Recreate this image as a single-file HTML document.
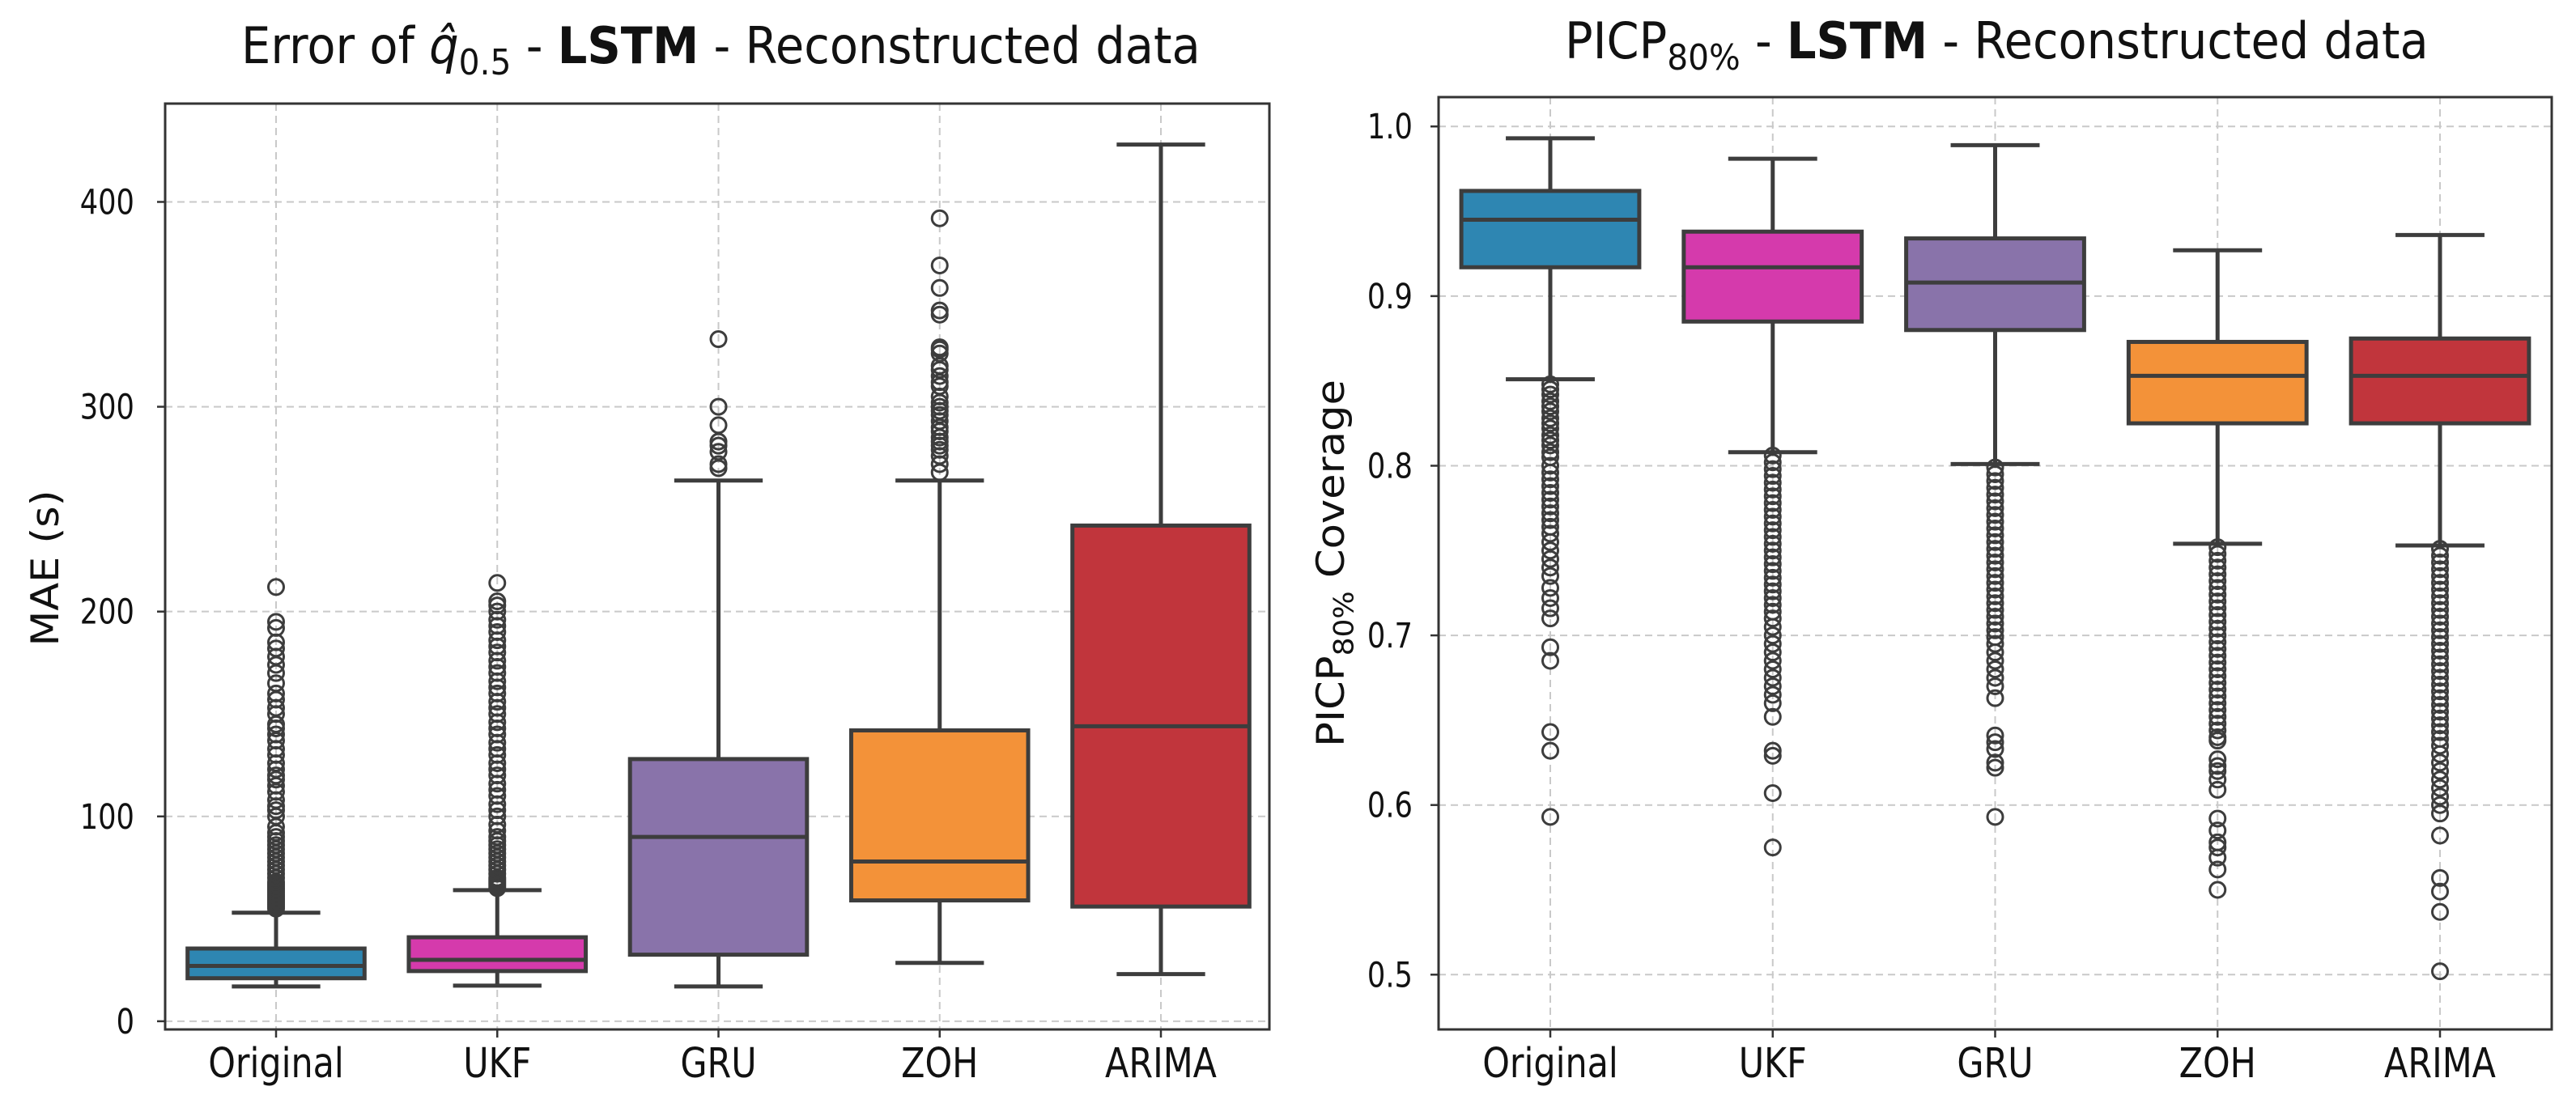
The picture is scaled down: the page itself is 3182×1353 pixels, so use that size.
<!DOCTYPE html>
<html><head><meta charset="utf-8"><style>
html,body{margin:0;padding:0;background:#fff;}
svg{display:block;}
text{font-family:"DejaVu Sans","Liberation Sans",sans-serif;fill:#111;}
</style></head>
<body>
<svg id="fig" width="3182" height="1353" viewBox="0 0 3182 1353">
<g id="left"></g>
<g id="right"></g>
<text id="t1" x="298" y="78" font-size="62">Error of <tspan font-style="italic">q̂</tspan><tspan font-size="44" dy="14">0.5</tspan><tspan dy="-14"> - </tspan><tspan font-weight="bold">LSTM</tspan> - Reconstructed data</text>
<text id="t2" x="1933" y="72" font-size="62">PICP<tspan font-size="44" dy="14">80%</tspan><tspan dy="-14"> - </tspan><tspan font-weight="bold">LSTM</tspan> - Reconstructed data</text>
</svg>
<script>
const categories = ["Original","UKF","GRU","ZOH","ARIMA"];
const colors = ["#2e86b2","#d53aac","#8973aa","#f39239","#c1353c"];
// MAE stats: [whiskerLow, q1, median, q3, whiskerHigh]
const maeStats = [
  [17,21,27,35.5,53],
  [17.4,24.5,30,41,64],
  [17,32.5,90,128,264],
  [28.5,59,78,142,264],
  [23,56,144,242,428]
];
const maeOutliers = [
  [55,56,57,58,59,60,61,62,63,64,65,66,67,68,70,72,74,76,78,80,82,84,86,88,90,92,95,100,103,105,108,112,115,118,120,123,126,130,133,137,140,143,145,150,153,157,160,165,170,174,178,182,185,192,195,212],
  [65,66,67,68,69,70,72,74,76,78,80,82,84,86,88,90,93,96,100,103,106,110,113,116,120,123,126,130,133,136,140,143,146,150,153,156,160,163,166,170,173,176,180,183,186,190,193,196,200,203,205,214],
  [270,272,278,281,283,291,300,333],
  [268,272,276,279,281,283,285,288,290,293,296,298,300,302,305,310,312,315,318,320,326,328,329,345,347,358,369,392],
  []
];
const maeTicks = [0,100,200,300,400];
const maeTickLabels = ["0","100","200","300","400"];
// PICP stats
const picpStats = [
  [0.851,0.917,0.945,0.962,0.993],
  [0.808,0.885,0.917,0.938,0.981],
  [0.801,0.880,0.908,0.934,0.989],
  [0.754,0.825,0.853,0.873,0.927],
  [0.753,0.825,0.853,0.875,0.936]
];
const picpOutliers = [
  [0.848,0.845,0.842,0.838,0.835,0.832,0.828,0.825,0.822,0.818,0.815,0.812,0.808,0.805,0.800,0.796,0.792,0.788,0.784,0.780,0.776,0.772,0.768,0.764,0.760,0.755,0.750,0.745,0.740,0.735,0.728,0.722,0.716,0.710,0.693,0.685,0.643,0.632,0.593],
  [0.806,0.802,0.798,0.794,0.790,0.786,0.782,0.778,0.774,0.770,0.766,0.762,0.758,0.754,0.750,0.746,0.742,0.738,0.734,0.730,0.726,0.722,0.718,0.714,0.710,0.705,0.700,0.695,0.690,0.685,0.680,0.675,0.670,0.665,0.660,0.652,0.632,0.629,0.607,0.575],
  [0.799,0.795,0.791,0.787,0.783,0.779,0.775,0.771,0.767,0.763,0.759,0.755,0.751,0.747,0.743,0.739,0.735,0.731,0.727,0.723,0.719,0.715,0.711,0.707,0.703,0.699,0.695,0.690,0.685,0.680,0.675,0.670,0.663,0.641,0.637,0.633,0.625,0.622,0.593],
  [0.752,0.748,0.744,0.740,0.736,0.732,0.728,0.724,0.720,0.716,0.712,0.708,0.704,0.700,0.696,0.692,0.688,0.684,0.680,0.676,0.672,0.668,0.664,0.660,0.656,0.652,0.648,0.644,0.640,0.638,0.627,0.623,0.620,0.615,0.609,0.592,0.585,0.578,0.575,0.569,0.562,0.550],
  [0.751,0.747,0.743,0.739,0.735,0.731,0.727,0.723,0.719,0.715,0.711,0.707,0.703,0.699,0.695,0.691,0.687,0.683,0.679,0.675,0.671,0.667,0.663,0.659,0.655,0.651,0.647,0.643,0.639,0.635,0.630,0.625,0.620,0.615,0.610,0.605,0.600,0.595,0.582,0.557,0.549,0.537,0.502]
];
const picpTicks = [0.5,0.6,0.7,0.8,0.9,1.0];
const picpTickLabels = ["0.5","0.6","0.7","0.8","0.9","1.0"];

const NS = "http://www.w3.org/2000/svg";
function mk(parent, tag, attrs){
  const e = document.createElementNS(NS, tag);
  for (const k in attrs) e.setAttribute(k, attrs[k]);
  parent.appendChild(e);
  return e;
}
function fitWidth(el, target, anchorX){
  const w = el.getBBox().width;
  if (w > 0){
    const s = target / w;
    el.setAttribute('transform', `translate(${anchorX},0) scale(${s},1) translate(${-anchorX},0)`);
  }
}

function panel(g, opt){
  const {L,R,T,B,ymin,ymax,cx,stats,outs,ticks,tlabels,tickLabelRight,ylabel} = opt;
  const y = v => B - (v - ymin) / (ymax - ymin) * (B - T);
  const x = i => cx[0] + i * (cx[1] - cx[0]);
  const step = cx[1] - cx[0];
  ticks.forEach((t) => {
    const gl = mk(g,'line',{x1:L,x2:R,y1:y(t),y2:y(t),stroke:'#c9c9c9','stroke-width':2,'stroke-dasharray':'9 6'});
    
    
  });
  categories.forEach((c,i) => {
    const gl = mk(g,'line',{x1:x(i),x2:x(i),y1:T,y2:B,stroke:'#c9c9c9','stroke-width':2,'stroke-dasharray':'9 6'});
    
    
  });
  categories.forEach((c,i) => {
    const s = stats[i];
    const bw = step * 0.8, cap = bw * 0.5;
    const grp = mk(g,'g',{});
    
    
    const st = {stroke:'#3d3d3d','stroke-width':5};
    mk(grp,'line',Object.assign({x1:x(i),x2:x(i),y1:y(s[0]),y2:y(s[1])},st));
    mk(grp,'line',Object.assign({x1:x(i),x2:x(i),y1:y(s[3]),y2:y(s[4])},st));
    mk(grp,'line',Object.assign({x1:x(i)-cap/2,x2:x(i)+cap/2,y1:y(s[0]),y2:y(s[0])},st));
    mk(grp,'line',Object.assign({x1:x(i)-cap/2,x2:x(i)+cap/2,y1:y(s[4]),y2:y(s[4])},st));
    mk(grp,'rect',Object.assign({x:x(i)-bw/2,y:y(s[3]),width:bw,height:y(s[1])-y(s[3]),fill:colors[i]},st));
    mk(grp,'line',Object.assign({x1:x(i)-bw/2,x2:x(i)+bw/2,y1:y(s[2]),y2:y(s[2])},st));
    outs[i].forEach(v => {
      const o = mk(grp,'circle',{cx:x(i),cy:y(v),r:9.5,fill:'none',stroke:'#3d3d3d','stroke-width':3});
      
      
    });
  });
  const fr = mk(g,'rect',{x:L,y:T,width:R-L,height:B-T,fill:'none',stroke:'#333','stroke-width':3});
  
  
  ticks.forEach((t,k) => {
    mk(g,'line',{x1:L-10,x2:L,y1:y(t),y2:y(t),stroke:'#333','stroke-width':2.5});
    const tx = mk(g,'text',{x:tickLabelRight,y:y(t)+15,'font-size':43,'text-anchor':'end'});
    tx.textContent = tlabels[k];
    tx.setAttribute('transform',`translate(${tickLabelRight},0) scale(0.82,1) translate(${-tickLabelRight},0)`);
    
    
  });
  categories.forEach((c,i) => {
    mk(g,'line',{x1:x(i),x2:x(i),y1:B,y2:B+10,stroke:'#333','stroke-width':2.5});
    const tx = mk(g,'text',{x:x(i),y:1331,'font-size':51,'text-anchor':'middle'});
    tx.textContent = c;
    tx.setAttribute('transform',`translate(${x(i)},0) scale(0.84,1) translate(${-x(i)},0)`);
    
    
  });
  const yl = mk(g,'text',{'font-size':54,'text-anchor':'middle',x:0,y:0});
  yl.innerHTML = ylabel.html;
  
  
  const w = yl.getBBox().width;
  const s = w > 0 ? ylabel.len / w : 1;
  yl.setAttribute('transform',`translate(${ylabel.x},${ylabel.y}) rotate(-90) scale(${s},0.88)`);
}

panel(document.getElementById('left'), {
  L:204,R:1568,T:128,B:1272,ymin:-4,ymax:448,cx:[341,614.25],
  stats:maeStats,outs:maeOutliers,ticks:maeTicks,tlabels:maeTickLabels,tickLabelRight:166,
  ylabel:{x:72,y:702,len:193,html:'MAE (s)'}
});
panel(document.getElementById('right'), {
  L:1777,R:3152,T:120,B:1272,ymin:0.4677,ymax:1.0173,cx:[1915,2189.75],
  stats:picpStats,outs:picpOutliers,ticks:picpTicks,tlabels:picpTickLabels,tickLabelRight:1745,
  ylabel:{x:1660,y:696,len:454,html:'PICP<tspan font-size="38" dy="13">80%</tspan><tspan dy="-13"> Coverage</tspan>'}
});
fitWidth(document.getElementById('t1'), 1185, 298);
fitWidth(document.getElementById('t2'), 1067, 1933);
</script>
</body></html>
